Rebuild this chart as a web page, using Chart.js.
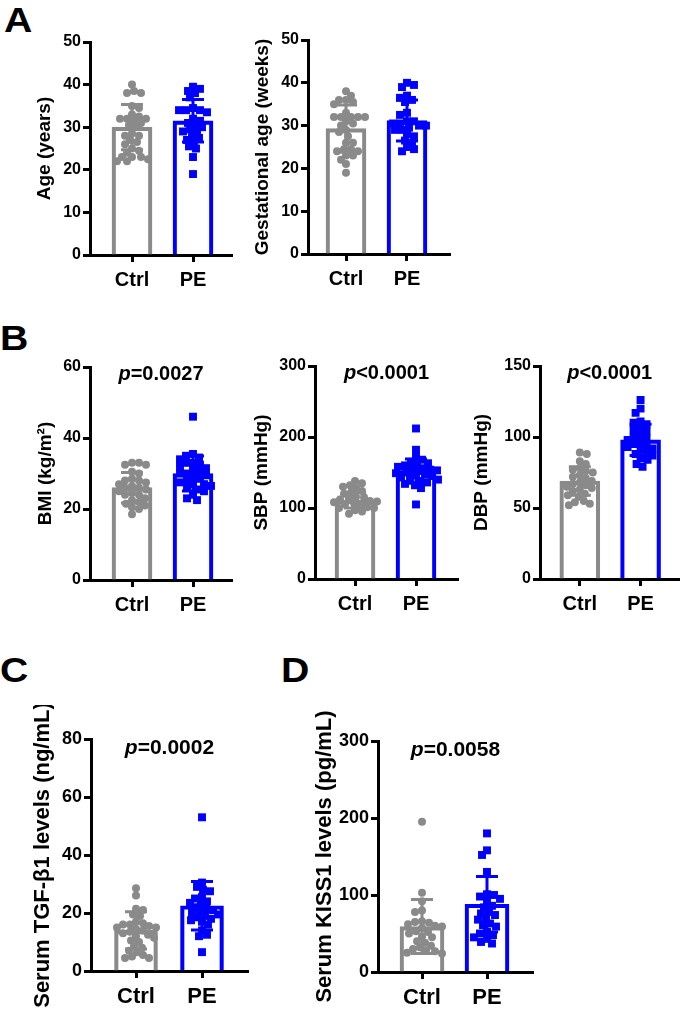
<!DOCTYPE html>
<html>
<head>
<meta charset="utf-8">
<script src="https://cdn.jsdelivr.net/npm/chart.js@4.4.1/dist/chart.umd.min.js"></script>
<style>
  body { margin: 0; background: #fff; width: 685px; height: 1010px; position: relative; overflow: hidden; font-family: "Liberation Sans", Arial, sans-serif; }
  canvas { position: absolute; }
  .letter { position: absolute; font-weight: bold; font-size: 35px; line-height: 1; transform-origin: 0 0; transform: scaleX(1.12); }
</style>
</head>
<body>
<div class="letter" style="left:4px;top:2px">A</div>
<div class="letter" style="left:0px;top:320px">B</div>
<div class="letter" style="left:0px;top:652px">C</div>
<div class="letter" style="left:281px;top:652px">D</div>

<canvas id="cA1"></canvas>
<canvas id="cA2"></canvas>
<canvas id="cB1"></canvas>
<canvas id="cB2"></canvas>
<canvas id="cB3"></canvas>
<canvas id="cC"></canvas>
<canvas id="cD"></canvas>

<script>
const groups = ['Ctrl', 'PE'];
const groupColors = ['#8a8a8a', '#0000ff'];

// A - age (years)
const ageCtrl = [40, 38.5, 38, 38, 35, 34.5, 33, 32.5, 32, 32, 32, 31.5, 31, 30.5, 30, 28.5, 28, 28, 27, 26.5, 26, 25, 24.5, 24, 23, 23, 23, 22.5, 22, 22];
const agePE = [39.5, 39, 38.5, 38, 37, 34.5, 34, 34, 34, 33.5, 32, 31.5, 31, 30.5, 30, 29.5, 29, 29, 28, 27.5, 27, 26.5, 25.5, 25, 23, 19];
const ageMean = [30, 31.5];
const ageSD = [5.3, 5.0];

// A - gestational age (weeks)
const gaCtrl = [38, 37, 36, 36, 35.5, 35, 33, 32, 32, 32, 32, 32, 31, 30.5, 30, 29, 28.5, 27.5, 26, 26, 24.5, 24.5, 24, 24, 23, 23, 22, 21, 19];
const gaPE = [40, 39.5, 39, 37, 36.5, 36, 35.5, 33, 32.5, 31, 31, 30.5, 30.5, 30, 30, 29.5, 29, 29, 28, 27.5, 26.5, 26, 25, 24.5, 24];
const gaMean = [29.3, 31.2];
const gaSD = [5.5, 4.8];

// B - BMI
const bmiCtrl = [33, 33, 32.5, 32.5, 30.5, 30, 28.5, 28, 28, 27.5, 27, 26.5, 26, 26, 25.5, 25, 24.5, 24, 24, 23, 22.5, 22, 21.5, 21, 20.5, 20, 18.5];
const bmiPE = [46, 35.5, 35, 34.5, 34, 33, 33, 32.5, 32, 31.5, 31, 30.5, 30, 30, 29.5, 29, 28.5, 28, 27.5, 27, 27, 26.5, 26, 25.5, 25, 24, 23, 22.5];
const bmiMean = [26, 30];
const bmiSD = [4.3, 4.9];

// B - SBP
const sbpCtrl = [138, 135, 132, 130, 128, 124, 122, 120, 116, 115, 113, 112, 110, 109, 108, 107, 106, 105, 104, 102, 101, 100, 100, 98, 97, 95, 92];
const sbpPE = [212, 182, 172, 168, 165, 163, 161, 160, 158, 156, 155, 154, 153, 152, 150, 149, 147, 146, 145, 143, 141, 140, 138, 136, 134, 132, 128, 105];
const sbpMean = [111, 152];
const sbpSD = [11, 17];

// B - DBP
const dbpCtrl = [89, 88, 83, 81, 78, 77, 76, 75, 73, 72, 71, 69, 68, 67, 66, 65, 64, 63, 62, 60, 59, 58, 55, 54, 53, 52];
const dbpPE = [126, 120, 117, 111, 110, 109, 106, 105, 104, 101, 100, 99, 98, 96, 95, 94, 93, 92, 91, 89, 88, 87, 85, 84, 81, 79];
const dbpMean = [69, 98];
const dbpSD = [10, 11];

// C - serum TGF-b1
const tgfCtrl = [28.5, 26, 21.5, 21, 19.5, 19, 17, 16.5, 16, 16, 15.5, 15, 15, 14.5, 14, 13.5, 13, 12.5, 12, 11.5, 10.5, 10, 8.5, 8, 7, 6.5, 5.5, 5, 4.5, 4.5];
const tgfPE = [53, 30.5, 29, 28, 27.5, 25.5, 25, 24, 23.5, 23, 22, 21.5, 21, 20.5, 20, 19.5, 19, 18.5, 18, 17.5, 17, 16, 14, 12.5, 12, 6.5];
const tgfMean = [14, 22.5];
const tgfSD = [6.4, 8.4];

// D - serum KISS1
const kissCtrl = [195, 103, 92, 80, 78, 66, 65, 64, 62, 60, 59, 57, 53, 52, 50, 46, 45, 40, 38, 34, 32, 30, 28, 27, 25, 24];
const kissPE = [180, 158, 152, 130, 101, 100, 98, 95, 92, 86, 84, 78, 76, 74, 70, 68, 63, 61, 59, 52, 50, 48, 45, 43, 39, 37];
const kissMean = [59, 88];
const kissSD = [35, 36];

Chart.defaults.font.family = '"Liberation Sans", Arial, sans-serif';
Chart.defaults.font.weight = 'bold';
Chart.defaults.color = '#000';

// mean +/- SD whiskers
const errorBars = {
  id: 'errorBars',
  afterDatasetsDraw(chart, args, o) {
    const { ctx, scales: { x, y } } = chart;
    ctx.save();
    ctx.lineWidth = 3;
    o.mean.forEach((m, i) => {
      const px = x.getPixelForValue(i + 1);
      const top = y.getPixelForValue(m + o.sd[i]);
      const bot = y.getPixelForValue(m - o.sd[i]);
      ctx.strokeStyle = groupColors[i];
      ctx.beginPath();
      ctx.moveTo(px, top); ctx.lineTo(px, bot);
      ctx.moveTo(px - o.cap, top); ctx.lineTo(px + o.cap, top);
      ctx.moveTo(px - o.cap, bot); ctx.lineTo(px + o.cap, bot);
      ctx.stroke();
    });
    ctx.restore();
  }
};

// italic p + value, centred over the plot
const pValue = {
  id: 'pValue',
  afterDraw(chart, args, o) {
    if (!o.text) return;
    const { ctx, chartArea } = chart;
    const fam = '"Liberation Sans", Arial, sans-serif';
    const fi = `italic bold ${o.size}px ${fam}`;
    const fb = `bold ${o.size}px ${fam}`;
    ctx.save();
    ctx.font = fi;
    const w1 = ctx.measureText('p').width;
    ctx.font = fb;
    const w2 = ctx.measureText(o.text).width;
    const x = (chartArea.left + chartArea.right) / 2 - (w1 + w2) / 2;
    const y = chartArea.top + o.dy;
    ctx.fillStyle = '#000';
    ctx.textBaseline = 'alphabetic';
    ctx.font = fi;
    ctx.fillText('p', x, y);
    ctx.font = fb;
    ctx.fillText(o.text, x + w1, y);
    ctx.restore();
  }
};

// simple beeswarm so dots with similar values spread sideways
function swarm(vals, pxPerY, diam, maxOff) {
  const order = vals.map((v, i) => i).sort((a, b) => vals[b] - vals[a]);
  const placed = [];
  const offs = new Array(vals.length).fill(0);
  order.forEach((i, n) => {
    const py = vals[i] * pxPerY;
    let chosen = 0;
    for (let k = 0; k <= 2 * maxOff; k++) {
      const mag = Math.ceil(k / 2);
      const off = (k % 2 === n % 2 ? 1 : -1) * mag;
      if (placed.every((p) => (p.x - off) ** 2 + (p.y - py) ** 2 >= diam * diam)) {
        chosen = off;
        break;
      }
    }
    offs[i] = chosen;
    placed.push({ x: chosen, y: py });
  });
  return offs;
}

const panels = [
  { id: 'cA1', box: { l: 33, t: 20, r: 245, b: 300 }, area: { l: 90, t: 42, r: 232, b: 255 }, g: [132, 193],
    ymax: 50, step: 10, title: 'Age (years)', p: null, ctrl: ageCtrl, pe: agePE, mean: ageMean, sd: ageSD, bar: 40, big: false },
  { id: 'cA2', box: { l: 251, t: 20, r: 460, b: 300 }, area: { l: 308, t: 40, r: 450, b: 254 }, g: [346, 407],
    ymax: 50, step: 10, title: 'Gestational age (weeks)', p: null, ctrl: gaCtrl, pe: gaPE, mean: gaMean, sd: gaSD, bar: 40, big: false },
  { id: 'cB1', box: { l: 34, t: 335, r: 245, b: 625 }, area: { l: 90, t: 367, r: 232, b: 580 }, g: [132, 193],
    ymax: 60, step: 20, title: 'BMI (kg/m\u00b2)', p: '=0.0027', ctrl: bmiCtrl, pe: bmiPE, mean: bmiMean, sd: bmiSD, bar: 40, big: false },
  { id: 'cB2', box: { l: 250, t: 335, r: 465, b: 625 }, area: { l: 315, t: 366, r: 458, b: 579 }, g: [355, 416],
    ymax: 300, step: 100, title: 'SBP (mmHg)', p: '<0.0001', ctrl: sbpCtrl, pe: sbpPE, mean: sbpMean, sd: sbpSD, bar: 40, big: false },
  { id: 'cB3', box: { l: 470, t: 335, r: 685, b: 625 }, area: { l: 540, t: 366, r: 680, b: 579 }, g: [580, 641],
    ymax: 150, step: 50, title: 'DBP (mmHg)', p: '<0.0001', ctrl: dbpCtrl, pe: dbpPE, mean: dbpMean, sd: dbpSD, bar: 40, big: false },
  { id: 'cC', box: { l: 30, t: 705, r: 265, b: 1010 }, area: { l: 91, t: 739, r: 248, b: 971 }, g: [136, 202],
    ymax: 80, step: 20, title: 'Serum TGF-\u03b21 levels (ng/mL)', p: '=0.0002', ctrl: tgfCtrl, pe: tgfPE, mean: tgfMean, sd: tgfSD, bar: 43, big: true },
  { id: 'cD', box: { l: 312, t: 705, r: 550, b: 1010 }, area: { l: 378, t: 741, r: 533, b: 972 }, g: [422, 487],
    ymax: 300, step: 100, title: 'Serum KISS1 levels (pg/mL)', p: '=0.0058', ctrl: kissCtrl, pe: kissPE, mean: kissMean, sd: kissSD, bar: 44, big: true },
];

panels.forEach((P) => {
  const cv = document.getElementById(P.id);
  const W = P.box.r - P.box.l;
  const H = P.box.b - P.box.t;
  cv.width = W; cv.height = H;
  cv.style.left = P.box.l + 'px';
  cv.style.top = P.box.t + 'px';
  cv.style.width = W + 'px';
  cv.style.height = H + 'px';

  const s = P.g[1] - P.g[0];
  const xmin = 1 - (P.g[0] - P.area.l) / s;
  const xmax = 2 + (P.area.r - P.g[1]) / s;
  const pxPerY = (P.area.b - P.area.t) / P.ymax;
  const yW = P.area.l - P.box.l;
  const xH = P.box.b - P.area.b;

  const offC = swarm(P.ctrl, pxPerY, 6.5, 22);
  const offP = swarm(P.pe, pxPerY, 6.5, 22);
  const ctrlPts = P.ctrl.map((v, i) => ({ x: 1 + offC[i] / s, y: v }));
  const pePts = P.pe.map((v, i) => ({ x: 2 + offP[i] / s, y: v }));

  const tickSize = P.big ? 18 : 16;
  const labSize = P.big ? 22 : 20;
  const titleSize = P.big ? 22 : 19;

  new Chart(cv, {
    type: 'bar',
    data: {
      datasets: [
        { type: 'scatter', data: ctrlPts, pointStyle: 'circle', pointRadius: 4, backgroundColor: groupColors[0], borderWidth: 0, order: 1 },
        { type: 'scatter', data: pePts, pointStyle: 'rect', pointRadius: 5.6, backgroundColor: groupColors[1], borderWidth: 0, order: 1 },
        { type: 'bar', data: [{ x: 1, y: P.mean[0] }, { x: 2, y: P.mean[1] }], barThickness: P.bar,
          backgroundColor: 'rgba(255,255,255,0)', borderColor: groupColors, borderWidth: 3.5, borderSkipped: 'start', order: 2 },
      ],
    },
    options: {
      responsive: false,
      animation: false,
      devicePixelRatio: 1,
      events: [],
      layout: { padding: { left: 0, top: P.area.t - P.box.t, right: P.box.r - P.area.r, bottom: 0 } },
      plugins: {
        legend: { display: false },
        tooltip: { enabled: false },
        errorBars: { mean: P.mean, sd: P.sd, cap: 11 },
        pValue: { text: P.p, size: P.big ? 21 : 20, dy: P.big ? 15 : 13 },
      },
      scales: {
        x: {
          type: 'linear', min: xmin, max: xmax, offset: false,
          afterBuildTicks: (sc) => { sc.ticks = [{ value: 1 }, { value: 2 }]; },
          afterFit: (sc) => { sc.height = xH; },
          grid: { drawOnChartArea: false, drawTicks: true, offset: false, tickLength: 7, tickWidth: 3, tickColor: '#000' },
          border: { color: '#000', width: 3 },
          ticks: { color: '#000', font: { size: labSize, weight: 'bold' }, padding: 6, maxRotation: 0,
            callback: (v) => groups[v - 1] },
        },
        y: {
          min: 0, max: P.ymax,
          afterFit: (sc) => { sc.width = yW; },
          grid: { drawOnChartArea: false, drawTicks: true, tickLength: 7, tickWidth: 3, tickColor: '#000' },
          border: { color: '#000', width: 3 },
          ticks: { stepSize: P.step, color: '#000', font: { size: tickSize, weight: 'bold' }, padding: 2 },
          title: { display: true, text: P.title, color: '#000', font: { size: titleSize, weight: 'bold' }, padding: 0 },
        },
      },
    },
    plugins: [errorBars, pValue],
  });
});
</script>
</body>
</html>
